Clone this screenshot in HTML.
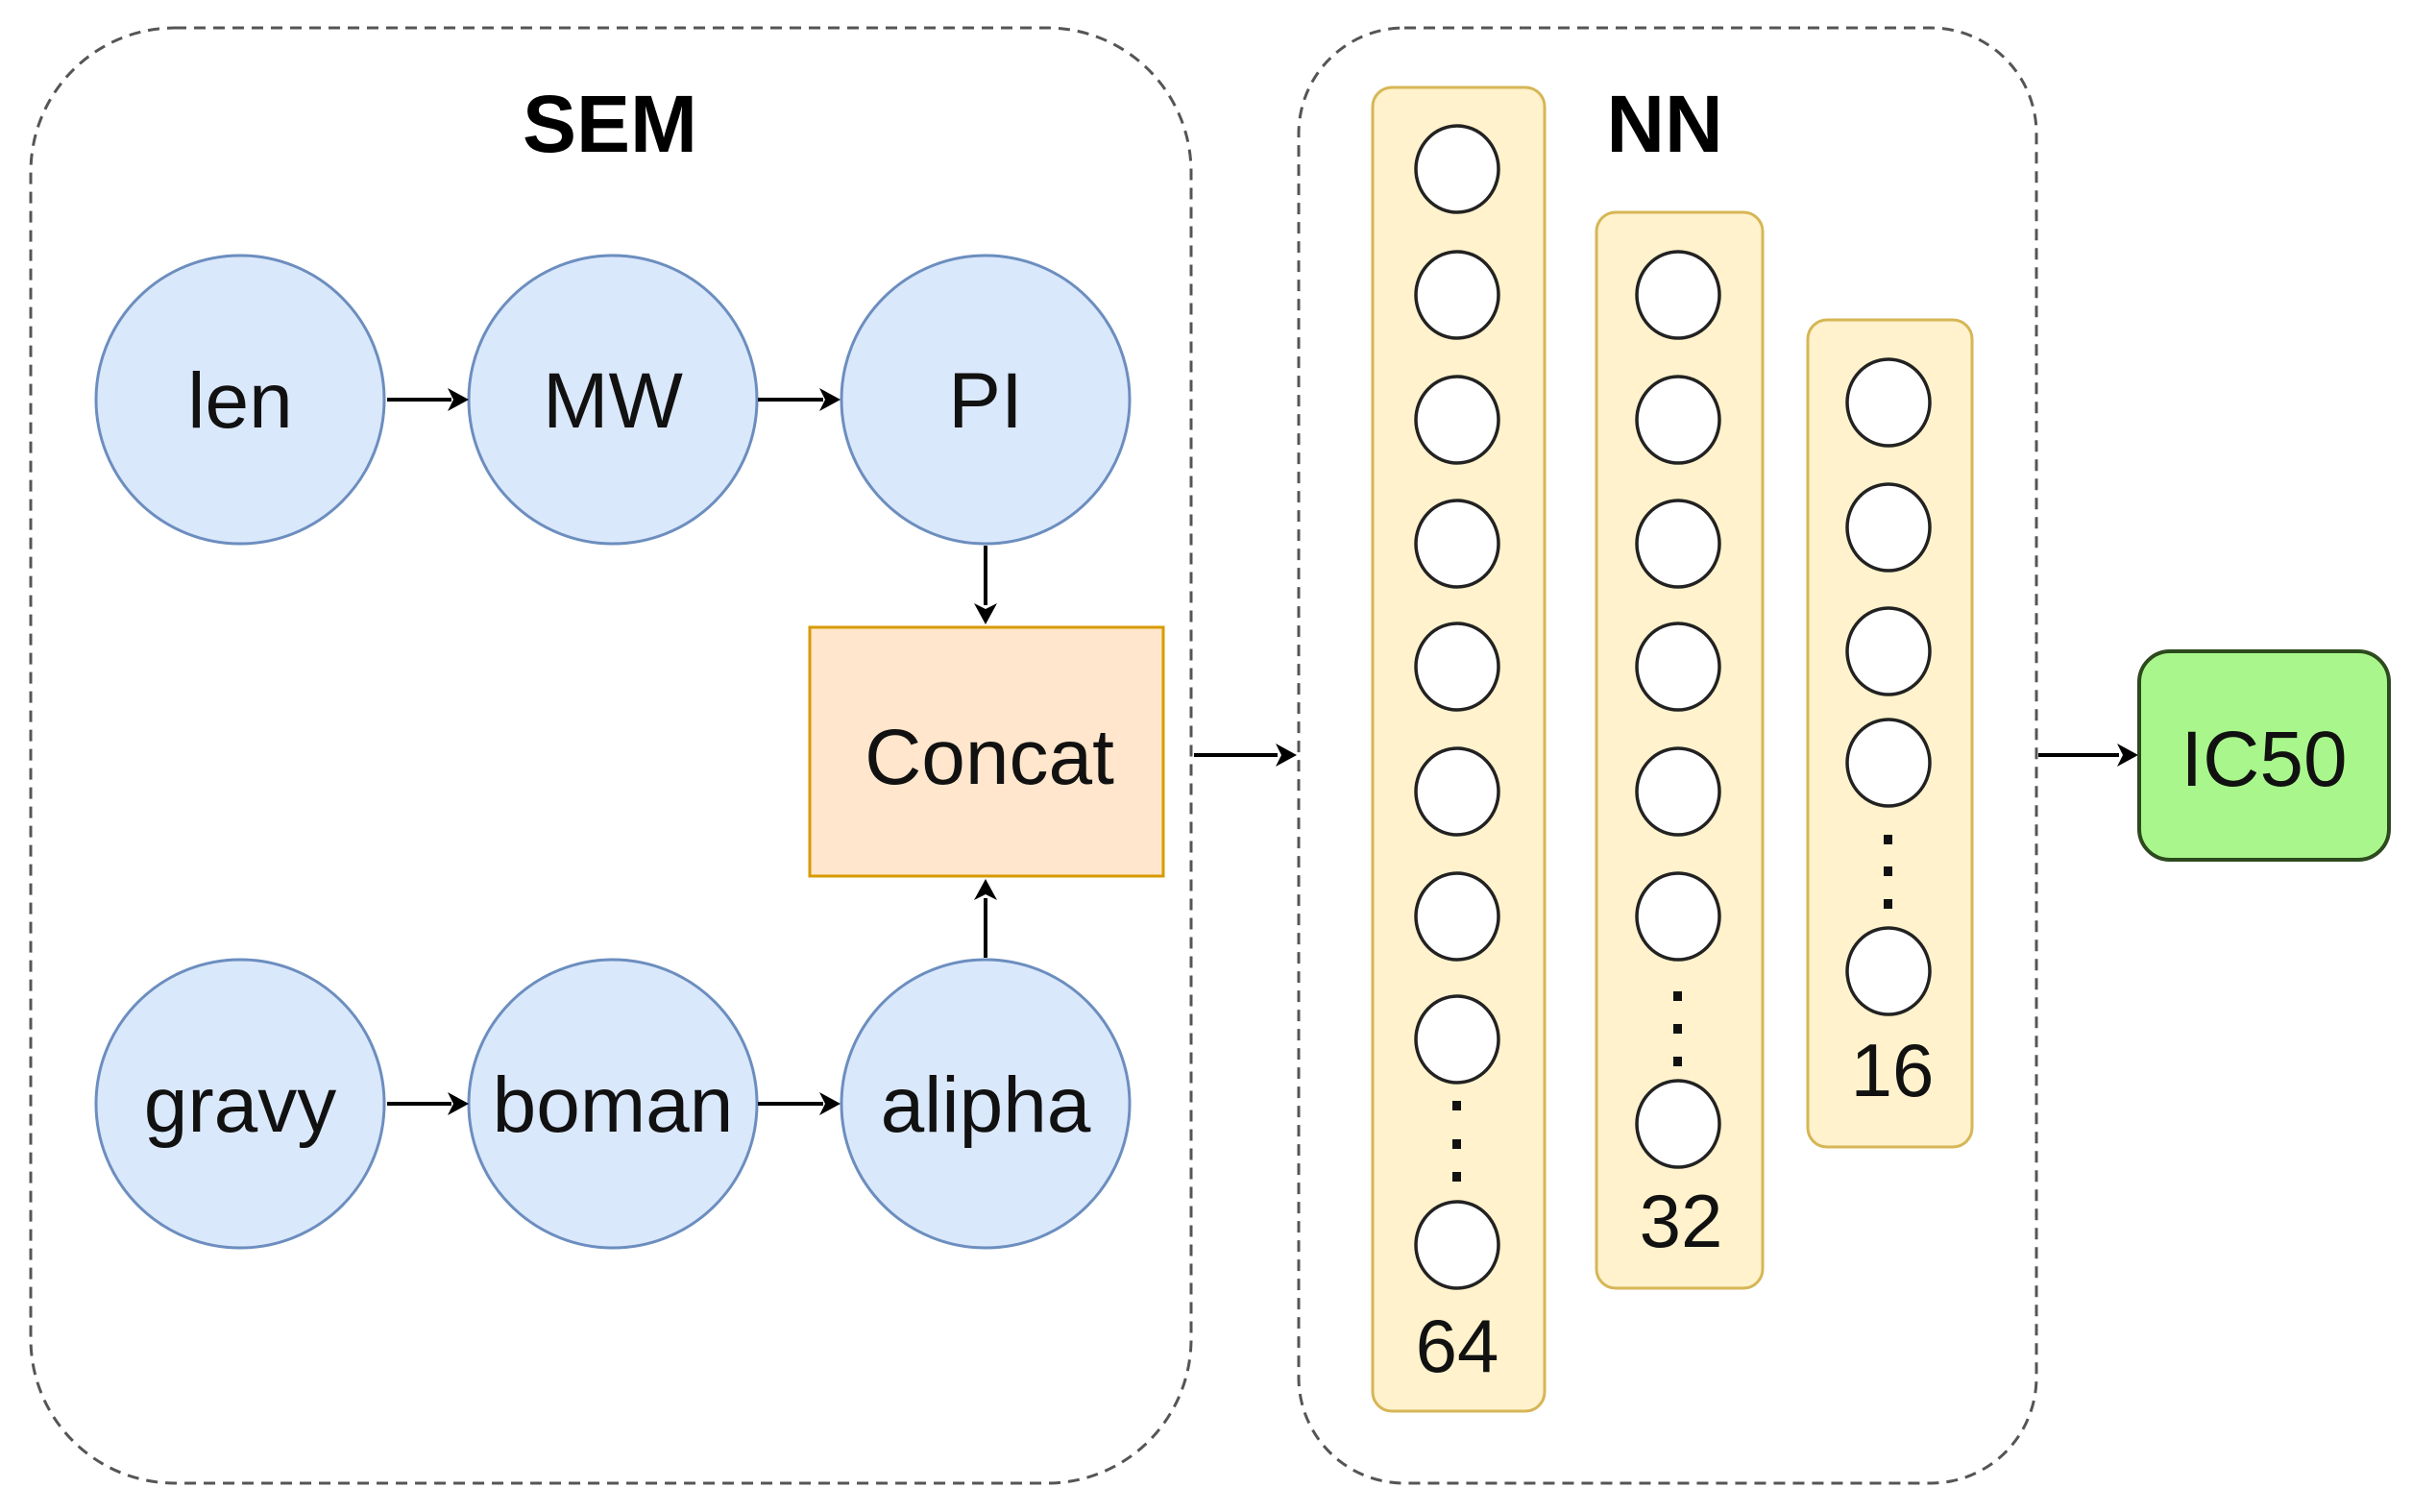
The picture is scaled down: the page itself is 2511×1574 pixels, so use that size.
<!DOCTYPE html>
<html><head><meta charset="utf-8"><style>html,body{margin:0;padding:0;background:#fff}svg{display:block}</style></head>
<body>
<svg width="2511" height="1574" viewBox="0 0 2511 1574" xmlns="http://www.w3.org/2000/svg" font-family="'Liberation Sans', sans-serif">
<defs>
<marker id="ah" markerWidth="10" markerHeight="10" refX="9" refY="5" orient="auto" markerUnits="userSpaceOnUse" viewBox="0 0 10 10">
</marker>
</defs>
<rect width="2511" height="1574" fill="#fff"/>
<!-- containers -->
<rect x="32" y="29" width="1208" height="1515" rx="150" fill="none" stroke="#555" stroke-width="3" stroke-dasharray="12 8"/>
<rect x="1352" y="29" width="768" height="1515" rx="110" fill="none" stroke="#555" stroke-width="3" stroke-dasharray="12 8"/>
<text x="635" y="158" font-size="84" font-weight="bold" text-anchor="middle" fill="#000">SEM</text>
<text x="1733" y="158" font-size="84" font-weight="bold" text-anchor="middle" fill="#000">NN</text>
<!-- SEM circles -->
<g fill="#dae8fc" stroke="#6c8ebf" stroke-width="3">
<circle cx="250" cy="416" r="150"/><circle cx="638" cy="416" r="150"/><circle cx="1026" cy="416" r="150"/>
<circle cx="250" cy="1149" r="150"/><circle cx="638" cy="1149" r="150"/><circle cx="1026" cy="1149" r="150"/>
</g>
<g font-size="82" text-anchor="middle" fill="#111">
<text x="250" y="445">len</text><text x="638" y="445">MW</text><text x="1026" y="445">PI</text>
<text x="250" y="1178">gravy</text><text x="638" y="1178">boman</text><text x="1026" y="1178">alipha</text>
</g>
<rect x="843" y="653" width="368" height="259" fill="#ffe6cc" stroke="#d79b00" stroke-width="3"/>
<text x="1030" y="816" font-size="82" text-anchor="middle" fill="#111">Concat</text>
<!-- arrows -->
<g stroke="#000" stroke-width="4">
<line x1="403" y1="416" x2="470" y2="416"/><line x1="789" y1="416" x2="857" y2="416"/>
<line x1="403" y1="1149" x2="470" y2="1149"/><line x1="789" y1="1149" x2="857" y2="1149"/>
<line x1="1026" y1="568" x2="1026" y2="630"/><line x1="1026" y1="997" x2="1026" y2="935"/>
<line x1="1243" y1="786" x2="1330" y2="786"/><line x1="2122" y1="786" x2="2206" y2="786"/>
</g>
<g fill="#000">
<polygon points="488,416 466,404 472,416 466,428"/><polygon points="875,416 853,404 859,416 853,428"/>
<polygon points="488,1149 466,1137 472,1149 466,1161"/><polygon points="875,1149 853,1137 859,1149 853,1161"/>
<polygon points="1026,650 1014,628 1026,634 1038,628"/><polygon points="1026,915 1014,937 1026,931 1038,937"/>
<polygon points="1350,786 1328,774 1334,786 1328,798"/><polygon points="2226,786 2204,774 2210,786 2204,798"/>
</g>
<!-- layers -->
<g fill="#fff2cc" stroke="#d6b656" stroke-width="3">
<rect x="1429" y="91" width="179" height="1378" rx="20"/>
<rect x="1662" y="221" width="173" height="1120" rx="20"/>
<rect x="1882" y="333" width="171" height="861" rx="20"/>
</g>
<g fill="#fff" stroke="#222" stroke-width="3.5">
<ellipse cx="1517" cy="176" rx="43" ry="45"/><ellipse cx="1517" cy="307" rx="43" ry="45"/><ellipse cx="1517" cy="437" rx="43" ry="45"/><ellipse cx="1517" cy="566" rx="43" ry="45"/><ellipse cx="1517" cy="694" rx="43" ry="45"/><ellipse cx="1517" cy="824" rx="43" ry="45"/><ellipse cx="1517" cy="954" rx="43" ry="45"/><ellipse cx="1517" cy="1082" rx="43" ry="45"/><ellipse cx="1517" cy="1296" rx="43" ry="45"/>
<ellipse cx="1747" cy="307" rx="43" ry="45"/><ellipse cx="1747" cy="437" rx="43" ry="45"/><ellipse cx="1747" cy="566" rx="43" ry="45"/><ellipse cx="1747" cy="694" rx="43" ry="45"/><ellipse cx="1747" cy="824" rx="43" ry="45"/><ellipse cx="1747" cy="954" rx="43" ry="45"/><ellipse cx="1747" cy="1170" rx="43" ry="45"/>
<ellipse cx="1966" cy="419" rx="43" ry="45"/><ellipse cx="1966" cy="549" rx="43" ry="45"/><ellipse cx="1966" cy="678" rx="43" ry="45"/><ellipse cx="1966" cy="794" rx="43" ry="45"/><ellipse cx="1966" cy="1011" rx="43" ry="45"/>
</g>
<g fill="#111">
<rect x="1512" y="1146" width="9" height="10"/><rect x="1512" y="1186" width="9" height="10"/><rect x="1512" y="1220" width="9" height="10"/>
<rect x="1742" y="1032" width="9" height="10"/><rect x="1742" y="1066" width="9" height="10"/><rect x="1742" y="1100" width="9" height="10"/>
<rect x="1961" y="869" width="9" height="10"/><rect x="1961" y="902" width="9" height="10"/><rect x="1961" y="936" width="9" height="10"/>
</g>
<g font-size="78" text-anchor="middle" fill="#111">
<text x="1517" y="1428">64</text><text x="1750" y="1298">32</text><text x="1970" y="1141">16</text>
</g>
<rect x="2227" y="678" width="260" height="217" rx="32" fill="#a9f78c" stroke="#2d4a1e" stroke-width="4"/>
<text x="2357" y="818" font-size="82" text-anchor="middle" fill="#111">IC50</text>
</svg>
</body></html>
